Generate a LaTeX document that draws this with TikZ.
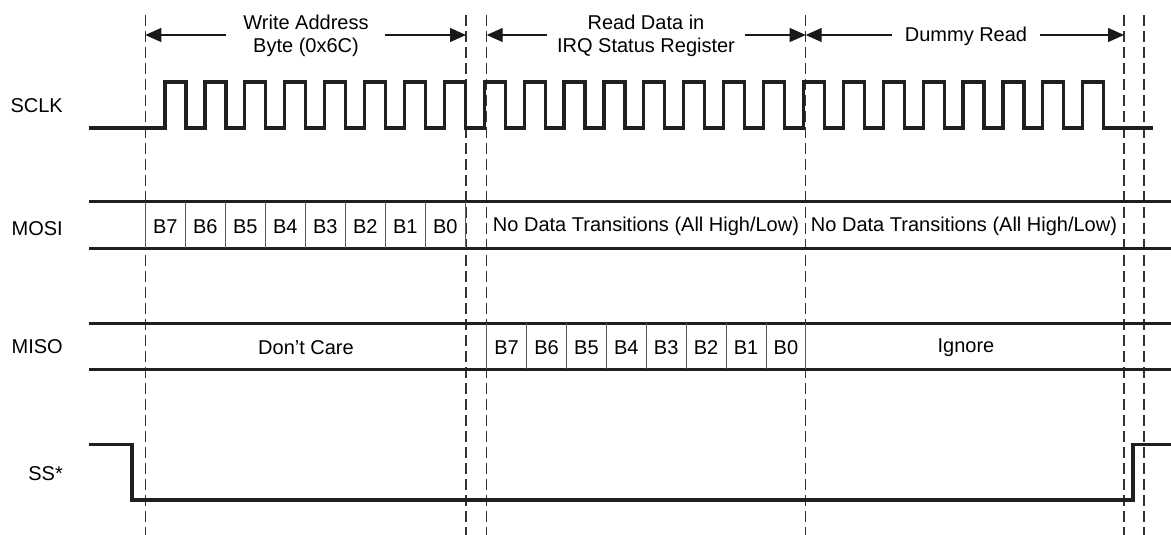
\documentclass[tikz,border=0pt]{standalone}
\usepackage{fontspec}
\setmainfont{Liberation Sans}
\usetikzlibrary{arrows.meta}

\tikzset{
  sig/.style={line width=3.2pt, black!88},
  guide/.style={line width=1.1pt, dash pattern=on 11pt off 5pt, black!80},
  cell/.style={line width=1pt, black!65},
  dimarr/.style={line width=1.2pt, black!90, -{Triangle[length=16pt,width=14pt]}},
  txt/.style={font=\fontsize{20}{24}\selectfont, inner sep=0pt, anchor=base},
  signame/.style={txt, anchor=base east},
}

\begin{document}
\begin{tikzpicture}[x=1pt,y=-1pt]
        \useasboundingbox (0,0) rectangle (1171,535);

        \foreach \gx [count=\i] in {145.3,466,486.7,805.7,1124,1144} {
            \draw[guide] (\gx,15) -- (\gx,535);
            \coordinate (g\i) at (\gx,35);
        }

        \node[signame] (sclk) at (63,113) {SCLK};
        \node[signame] (mosi) at (63,235) {MOSI};
        \node[signame] (miso) at (63,353) {MISO};
        \node[signame] (ss) at (63,480) {SS*};

        \node[txt, align=center] (wrhead) at (306,53) {Write Address\\Byte (0x6C)};
        \node[txt, align=center] (rdhead) at (646,53) {Read Data in\\IRQ Status Register};
        \node[txt] (dmhead) at (966,42) {Dummy Read};
        \coordinate (wl) at (226,35);
        \coordinate (wr) at (385,35);
        \coordinate (rl) at (547,35);
        \coordinate (rr) at (745,35);
        \coordinate (dl) at (892,35);
        \coordinate (dr) at (1040,35);
        \draw[dimarr] (wl) -- (g1);
        \draw[dimarr] (wr) -- (g2);
        \draw[dimarr] (rl) -- (g3);
        \draw[dimarr] (rr) -- (g4);
        \draw[dimarr] (dl) -- (g4);
        \draw[dimarr] (dr) -- (g5);

        \draw[sig] (89,128) foreach \k in {0,...,23} {
            -- ({165+39.9*\k},128) -- ({165+39.9*\k},82) -- ({186+39.9*\k},82) -- ({186+39.9*\k},128)
        } -- (1153,128);

        \draw[sig] (89,201.7) -- (1171,201.7);
        \draw[sig] (89,248.3) -- (1171,248.3);
        \foreach \k in {0,...,8}
            \draw[cell] ({145.3+40*\k},201.7) -- ({145.3+40*\k},248.3);
        \foreach \b [count=\i from 0] in {7,...,0}
            \node[txt] (mo\b) at ({165.3+40*\i},233) {B\b};
        \node[txt] (mond1) at (646,231) {No Data Transitions (All High/Low)};
        \node[txt] (mond2) at (964,231) {No Data Transitions (All High/Low)};

        \draw[sig] (89,323.3) -- (1171,323.3);
        \draw[sig] (89,369.3) -- (1171,369.3);
        \foreach \k in {0,...,8}
            \draw[cell] ({486.7+39.9*\k},323.3) -- ({486.7+39.9*\k},369.3);
        \foreach \b [count=\i from 0] in {7,...,0}
            \node[txt] (mi\b) at ({506.6+39.9*\i},354) {B\b};
        \node[txt] (midc) at (306,354) {Don't Care};
        \node[txt] (miig) at (966,352) {Ignore};

        \draw[sig] (89,444.3) -- (132,444.3) -- (132,500) -- (1133,500) -- (1133,444.3) -- (1171,444.3);
\end{tikzpicture}
\end{document}
